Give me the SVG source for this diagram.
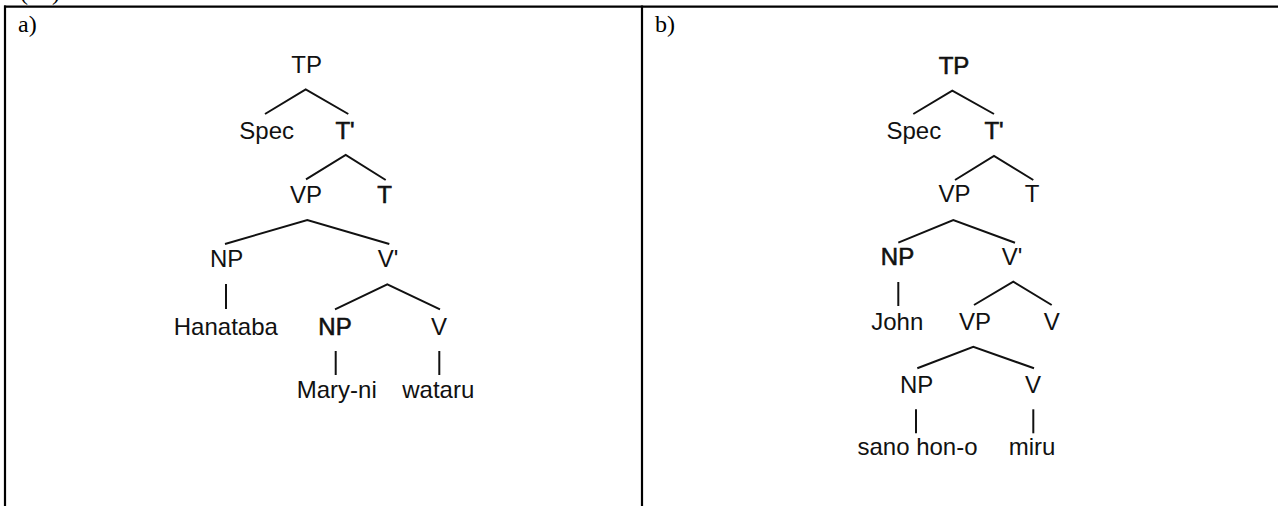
<svg xmlns="http://www.w3.org/2000/svg" width="1278" height="506" viewBox="0 0 1278 506">
<style>
.lbl{font-family:"Liberation Sans",Arial,sans-serif;font-size:24px;fill:#111;text-anchor:middle}
.b{stroke:#111;stroke-width:0.6}
.cap{font-family:"Liberation Serif","Times New Roman",serif;font-size:24px;fill:#000}
.edge{fill:none;stroke:#111;stroke-width:2;stroke-linejoin:miter}
.rule{stroke:#000;stroke-width:2.2;fill:none}
</style>
<rect width="1278" height="506" fill="#fff"/>
<g id="table">
<text class="cap" x="20" y="0" font-size="22">(13)</text>
<line class="rule" x1="4" y1="6.6" x2="1278" y2="6.6"/>
<line class="rule" x1="5" y1="5.5" x2="5" y2="506"/>
<line class="rule" x1="642" y1="5.5" x2="642" y2="506"/>
<text class="cap" x="18" y="32">a)</text>
<text class="cap" x="655" y="32">b)</text>
</g>
<g id="connectors">
<polyline class="edge" points="265,114 305.7,89.3 348.3,114"/>
<polyline class="edge" points="306,179.3 345.7,155 385.7,180"/>
<polyline class="edge" points="225,244 307.3,220 389.3,244"/>
<line class="edge" x1="226" y1="284" x2="226" y2="309"/>
<polyline class="edge" points="335,309.3 387.3,284.3 440,309.3"/>
<line class="edge" x1="335.7" y1="351" x2="335.7" y2="375"/>
<line class="edge" x1="439.3" y1="351" x2="439.3" y2="375"/>
<polyline class="edge" points="913.3,114 952.3,90.7 994,114"/>
<polyline class="edge" points="955,180 994,156 1033.3,180"/>
<polyline class="edge" points="898.3,242.7 953.3,220 1015,242.7"/>
<line class="edge" x1="898.3" y1="282" x2="898.3" y2="306"/>
<polyline class="edge" points="974,305 1013.3,281.7 1051.7,305"/>
<polyline class="edge" points="917.3,368.3 973.3,346.7 1034,368.3"/>
<line class="edge" x1="916" y1="409.3" x2="916" y2="433.3"/>
<line class="edge" x1="1033.3" y1="409.3" x2="1033.3" y2="433.3"/>
</g>
<g id="a-TP"><text class="lbl" x="306.7" y="72.5">TP</text></g>
<g id="a-Spec"><text class="lbl" x="266.7" y="139">Spec</text></g>
<g id="a-Tbar"><text class="lbl b" x="345" y="139">T'</text></g>
<g id="a-VP"><text class="lbl" x="306" y="202.5">VP</text></g>
<g id="a-T"><text class="lbl b" x="384.7" y="202.5">T</text></g>
<g id="a-NP1"><text class="lbl" x="226.7" y="266.5">NP</text></g>
<g id="a-Vbar"><text class="lbl" x="388" y="266.5">V'</text></g>
<g id="a-Hanataba"><text class="lbl" x="225.8" y="335">Hanataba</text></g>
<g id="a-NP2"><text class="lbl b" x="335" y="335">NP</text></g>
<g id="a-V"><text class="lbl" x="439" y="335">V</text></g>
<g id="a-Maryni"><text class="lbl" x="336.8" y="398">Mary-ni</text></g>
<g id="a-wataru"><text class="lbl" x="438.3" y="398">wataru</text></g>
<g id="b-TP"><text class="lbl b" x="954" y="74">TP</text></g>
<g id="b-Spec"><text class="lbl" x="913.8" y="139">Spec</text></g>
<g id="b-Tbar"><text class="lbl b" x="994" y="139">T'</text></g>
<g id="b-VP1"><text class="lbl" x="954.5" y="202">VP</text></g>
<g id="b-T"><text class="lbl" x="1032" y="202">T</text></g>
<g id="b-NP1"><text class="lbl b" x="897.5" y="265">NP</text></g>
<g id="b-Vbar"><text class="lbl" x="1012" y="265">V'</text></g>
<g id="b-John"><text class="lbl" x="897.3" y="330">John</text></g>
<g id="b-VP2"><text class="lbl" x="975" y="330">VP</text></g>
<g id="b-V1"><text class="lbl" x="1051.7" y="330">V</text></g>
<g id="b-NP2"><text class="lbl" x="916.7" y="393">NP</text></g>
<g id="b-V2"><text class="lbl" x="1033" y="393">V</text></g>
<g id="b-sanohono"><text class="lbl" x="917.5" y="455">sano hon-o</text></g>
<g id="b-miru"><text class="lbl" x="1032" y="455">miru</text></g>
</svg>
